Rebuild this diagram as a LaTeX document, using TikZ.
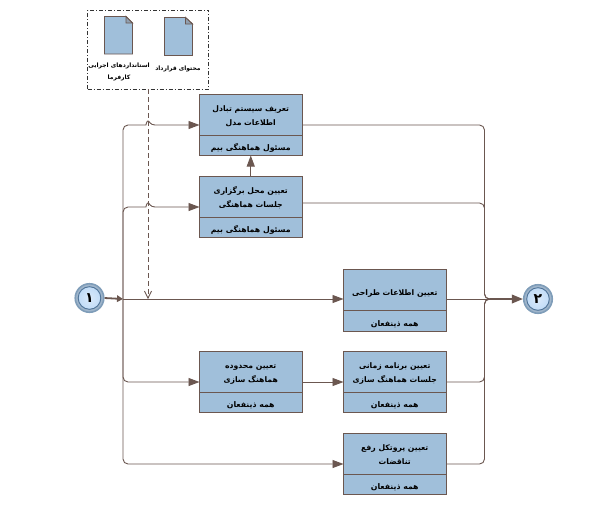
\documentclass[tikz,border=0pt]{standalone}
\usepackage{fontspec}
\setmainfont{DejaVu Sans}
\newfontfamily\fa[Script=Arabic]{DejaVu Sans}
\TeXXeTstate=1
\usetikzlibrary{arrows.meta,calc,positioning}
\definecolor{boxfill}{HTML}{A0BFDA}
\definecolor{edge}{HTML}{6B5750}
\definecolor{ringout}{HTML}{7F9DB9}
\definecolor{ringin}{HTML}{4F7397}
\definecolor{evtfill}{HTML}{BBD8F6}
\newcommand{\rtl}[1]{\beginR #1\endR}
\newcommand{\rline}[1]{\raisebox{-3.75pt}[0pt][0pt]{\rtl{#1}}}
\tikzset{
  x=1pt,y=-1pt,
  upperbox/.style={draw=edge,fill=boxfill,line width=0.9pt,outer sep=0pt,minimum width=102.5pt,minimum height=41pt,inner sep=0pt,align=center,font=\fa\fontsize{7.7}{14.5}\selectfont\bfseries,text=black},
  lowerbox/.style={draw=edge,fill=boxfill,line width=0.9pt,outer sep=0pt,minimum width=102.5pt,minimum height=20.5pt,inner sep=0pt,align=center,font=\fa\fontsize{7.8}{9}\selectfont\bfseries,text=black,execute at begin node={\rule{0pt}{12pt}}},
  link/.style={draw=edge,line width=0.9pt,rounded corners=5pt},
  tip/.style={-{Triangle[length=11pt,width=8pt,fill=edge]}},
  docbody/.style={draw=edge,fill=boxfill,line width=0.9pt},
  doclabel/.style={inner sep=0pt,align=center,font=\fa\fontsize{6}{12}\selectfont\bfseries,text=black},
  evt/.style={circle,draw=ringout,line width=1.6pt,fill=ringout!75!white,minimum size=28.5pt,inner sep=0pt,font=\fa\fontsize{14}{14}\selectfont\bfseries,
    path picture={\draw[draw=ringin,line width=0.9pt,inner color=evtfill!55!white,outer color=evtfill] (path picture bounding box.center) circle (11.3pt);}},
}
\begin{document}
\begin{tikzpicture}
\useasboundingbox (0,0) rectangle (597,507);
\fill[white] (0,0) rectangle (597,507);
% boxes
\node[upperbox,anchor=north west] (b1) at (199.5,94) {\rline{تعریف سیستم تبادل}\\\rline{اطلاعات مدل}};
\node[lowerbox,anchor=north] (b1l) at (b1.south) {\rtl{مسئول هماهنگی بیم}};
\node[upperbox,anchor=north west] (b2) at (199.5,176) {\rline{تعیین محل برگزاری}\\\rline{جلسات هماهنگی}};
\node[lowerbox,anchor=north] (b2l) at (b2.south) {\rtl{مسئول هماهنگی بیم}};
\node[upperbox,anchor=north west,execute at begin node={\rule{0pt}{13pt}}] (b3) at (343.5,269.5) {\rtl{تعیین اطلاعات طراحی}};
\node[lowerbox,anchor=north] (b3l) at (b3.south) {\rtl{همه ذینفعان}};
\node[upperbox,anchor=north west] (b4) at (199.5,351) {\rline{تعیین محدوده}\\\rline{هماهنگ سازی}};
\node[lowerbox,anchor=north] (b4l) at (b4.south) {\rtl{همه ذینفعان}};
\node[upperbox,anchor=north west] (b5) at (343.5,351) {\rline{تعیین برنامه زمانی}\\\rline{جلسات هماهنگ سازی}};
\node[lowerbox,anchor=north] (b5l) at (b5.south) {\rtl{همه ذینفعان}};
\node[upperbox,anchor=north west] (b6) at (343.5,433) {\rline{تعیین پروتکل رفع}\\\rline{تناقضات}};
\node[lowerbox,anchor=north] (b6l) at (b6.south) {\rtl{همه ذینفعان}};
% events
\node[evt] (s) at (89.5,298) {\rtl{۱}};
\node[evt] (e) at (538,299) {\rtl{۲}};
% docs group
\node[draw=black!80,dash pattern=on 4pt off 2pt on 1pt off 2pt,line width=0.6pt,outer sep=0pt,minimum width=121pt,minimum height=79pt,inner sep=0pt,anchor=north west] (grp) at (87.5,10) {};
\draw[docbody] (104.5,16.5) -- (126,16.5) -- (132.5,23) -- (132.5,54) -- (104.5,54) -- cycle;
\draw[docbody,fill=boxfill!70!edge] (126,16.5) -- (126,23) -- (132.5,23) -- cycle;
\draw[docbody] (164.5,17.5) -- (185.5,17.5) -- (192.5,24) -- (192.5,55.5) -- (164.5,55.5) -- cycle;
\draw[docbody,fill=boxfill!70!edge] (185.5,17.5) -- (185.5,24) -- (192.5,24) -- cycle;
\node[doclabel] (d1) at (119,72) {\rtl{استانداردهای اجرایی}\\\rtl{کارفرما}};
\node[doclabel] (d2) at (178,69) {\rtl{محتوای قرارداد}};
% named routing points
\coordinate (busT) at (123,299);
\coordinate (busE) at (490,299);
\coordinate (dropEnd) at (148,299);
% dashed input
\draw[edge,dash pattern=on 5pt off 3pt,line width=0.8pt,-{Straight Barb[length=7pt,width=7pt]}] (grp.south -| dropEnd) -- (dropEnd);
% from start
\draw[link,tip] (busT) -- (b3.west |- busT);
\draw[link,tip] (busT) -- (123,125) -- (141,125) [sharp corners] .. controls (146,125) and (146.5,121) .. (148,121) .. controls (149.5,121) and (150,125) .. (155,125) -- (b1.west |- 0,125);
\draw[link,tip] (busT) -- (123,207) -- (141,207) [sharp corners] .. controls (146,207) and (146.5,203) .. (148,203) .. controls (149.5,203) and (150,207) .. (155,207) -- (b2.west |- 0,207);
\draw[link,tip] (busT) -- (123,382) -- (b4.west |- 0,382);
\draw[link,tip] (busT) -- (123,464) -- (b6.west |- 0,464);
\draw[edge,line width=1.8pt,-{Triangle[length=6pt,width=6.5pt,fill=edge]}] (s.east) -- (busT);
% between boxes
\draw[link,tip] (b2.north) -- (b1l.south);
\draw[link,tip] (b4.east |- 0,382) -- (b5.west |- 0,382);
% to merge
\draw[link] (b1.east |- 0,125) -- (484.5,125) -- (484.5,299) -- (busE);
\draw[link] (b2.east |- 0,203) -- (484.5,203) -- (484.5,299) -- (busE);
\draw[link] (b3.east |- busE) -- (busE);
\draw[link] (b5.east |- 0,382) -- (484.5,382) -- (484.5,299) -- (busE);
\draw[link] (b6.east |- 0,464) -- (484.5,464) -- (484.5,299) -- (busE);
\draw[edge,line width=1.8pt,-{Triangle[length=11pt,width=8.5pt,fill=edge]}] (busE) -- (e.west);
\end{tikzpicture}
\end{document}
